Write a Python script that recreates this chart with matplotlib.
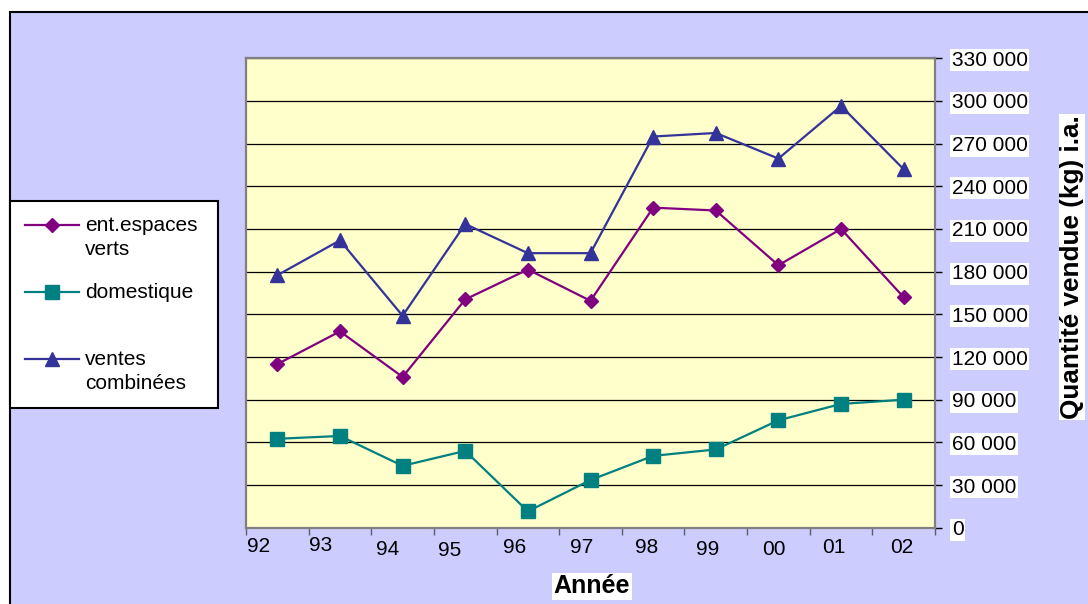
import numpy as np
import matplotlib
matplotlib.use("Agg")
import matplotlib.pyplot as plt
import matplotlib.transforms as mtransforms
from matplotlib.patches import Rectangle
from matplotlib.lines import Line2D
from matplotlib.legend_handler import HandlerLine2D

# ---------------- data ----------------
years = ["92", "93", "94", "95", "96", "97", "98", "99", "00", "01", "02"]
espaces_verts = [115000, 138000, 106000, 160500, 181500, 159500,
                 225000, 223000, 184500, 210000, 162000]
domestique = [62500, 64500, 43500, 54000, 11500, 33500,
              50500, 55000, 75500, 87000, 90000]
ventes_combinees = [177500, 202000, 149000, 213500, 193000, 193000,
                    275000, 277500, 259500, 296500, 252000]
series_labels = ["ent.espaces\nverts", "domestique\n", "ventes\ncombinées"]
y_ticks = [0, 30000, 60000, 90000, 120000, 150000, 180000, 210000,
           240000, 270000, 300000, 330000]
y_tick_labels = ["0", "30 000", "60 000", "90 000", "120 000", "150 000",
                 "180 000", "210 000", "240 000", "270 000", "300 000",
                 "330 000"]
x_title = "Année"
y_title = "Quantité vendue (kg) i.a."

# ---------------- style ----------------
plt.rcParams['font.family'] = ['Liberation Sans', 'DejaVu Sans']
W, H = 1088, 604
fig = plt.figure(figsize=(W / 100, H / 100), dpi=100)
fig.patch.set_facecolor("white")

# chart area (lavender, black border, runs off right/bottom)
fig.patches.append(Rectangle((10 / W, -0.05), 1.2, 1 - 12 / H + 0.05,
                             transform=fig.transFigure, facecolor="#CCCCFF",
                             edgecolor="black", linewidth=1.5, zorder=-10))

ax = fig.add_axes([246 / W, 1 - 527.7 / H, (935 - 246) / W, (527.7 - 58.3) / H])
ax.set_zorder(1)
ax.set_facecolor("#FFFFCC")
for s in ax.spines.values():
    s.set_color("#808080")
    s.set_linewidth(1.6)

x = np.arange(len(years))
c_ev, c_dom, c_vc = "#800080", "#008080", "#333399"
l1, = ax.plot(x, espaces_verts, color=c_ev, lw=1.6, marker="D", ms=7.5,
              markeredgecolor=c_ev, zorder=4)
l2, = ax.plot(x, domestique, color=c_dom, lw=1.6, marker="s", ms=10.5,
              markeredgecolor=c_dom, zorder=4)
l3, = ax.plot(x, ventes_combinees, color=c_vc, lw=1.6, marker="^", ms=10.5,
              markeredgecolor=c_vc, zorder=4)

ax.set_xlim(-0.5, len(years) - 0.5)
ax.set_ylim(y_ticks[0], y_ticks[-1])

# y axis on the right
ax.yaxis.tick_right()
ax.set_yticks(y_ticks)
ax.set_yticklabels(y_tick_labels)
ax.tick_params(axis="y", which="major", direction="out", length=5, width=1,
               color="black", pad=7, labelsize=15, right=True, left=False)
for t in ax.get_yticklabels():
    t.set_bbox(dict(facecolor="white", edgecolor="none", pad=1))
ax.yaxis.grid(True, color="black", linewidth=0.9)
ax.set_axisbelow(True)

# x axis: ticks at category boundaries, labels at centres
ax.set_xticks(np.arange(-0.5, len(years), 1.0))
ax.set_xticklabels([])
ax.set_xticks(x, minor=True)
ax.set_xticklabels(years, minor=True)
ax.tick_params(axis="x", which="major", direction="out", length=5, width=1,
               color="#606060")
ax.tick_params(axis="x", which="minor", length=0, pad=6.8, labelsize=15)

# small nudges of the category labels (pixels: right, down)
nudges = [(-18.6, 0), (-18.9, -1), (-14.8, 2.4), (-15.2, 3.4), (-13.1, 0.7),
          (-8.4, 0.7), (-7, 0.7), (-8.4, 2.7), (-5, 2.7), (-6.9, 0.7),
          (-2.2, 0.7)]
for lbl, (dx, dy) in zip(ax.xaxis.get_minorticklabels(), nudges):
    lbl.set_transform(lbl.get_transform() +
                      mtransforms.ScaledTranslation(dx / 100, -dy / 100,
                                                    fig.dpi_scale_trans))

# axis titles
fig.text(592 / W, 1 - 586 / H, x_title, ha="center", va="center",
         fontsize=18, fontweight="bold",
         bbox=dict(facecolor="white", edgecolor="none", pad=1))
fig.text(1072 / W, 1 - 267 / H, y_title, ha="center", va="center",
         rotation=90, fontsize=18.8, fontweight="bold",
         bbox=dict(facecolor="white", edgecolor="none", pad=1))


# legend: marker aligned to the first line of each label
class FirstLineHandler(HandlerLine2D):
    def __init__(self, shift, **kw):
        super().__init__(**kw)
        self.shift = shift

    def create_artists(self, legend, orig_handle, xdescent, ydescent,
                       width, height, fontsize, trans):
        arts = super().create_artists(legend, orig_handle, xdescent, ydescent,
                                      width, height, fontsize, trans)
        for a in arts:
            a.set_ydata(np.asarray(a.get_ydata()) + self.shift * fontsize)
        return arts


leg = fig.legend([l1, l2, l3], series_labels,
                 loc="upper left", mode="expand",
                 bbox_to_anchor=(10 / W, 0.3, 208 / W, (1 - 201 / H) - 0.3),
                 bbox_transform=fig.transFigure, borderaxespad=0,
                 fontsize=15, frameon=True, fancybox=False, shadow=False,
                 framealpha=1, edgecolor="black", facecolor="white",
                 handlelength=2.6, handletextpad=0.3, borderpad=0.7,
                 labelspacing=1.15, numpoints=1,
                 handler_map={Line2D: FirstLineHandler(0.6)})
leg.get_frame().set_linewidth(1.5)
leg.set_zorder(2)
for t in leg.get_texts():
    t.set_linespacing(1.35)

fig.savefig("out.png", dpi=100, facecolor=fig.get_facecolor())
